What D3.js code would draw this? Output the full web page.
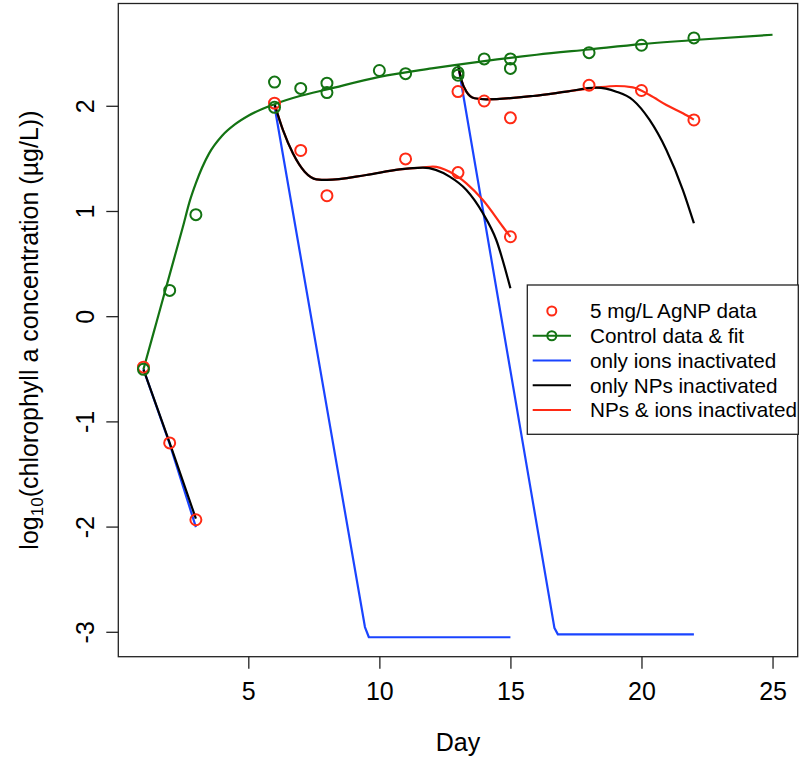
<!DOCTYPE html>
<html>
<head>
<meta charset="utf-8">
<script src="https://cdn.jsdelivr.net/npm/d3@7"></script>
<style>
  body { margin: 0; background: #fff; }
  svg text { font-family: "Liberation Sans", Arial, Helvetica, sans-serif; fill: #000; }
</style>
</head>
<body>
<svg id="chart" width="800" height="761"></svg>
<script>
// control data (green circles)
const ctrlDays = [1, 2, 3, 6, 6, 7, 8, 8, 10, 11, 13, 13, 14, 15, 15, 18, 20, 22];
const ctrlVals = [-0.50, 0.25, 0.97, 2.23, 1.99, 2.17, 2.22, 2.13, 2.34, 2.31, 2.32, 2.295, 2.45, 2.45, 2.36, 2.51, 2.58, 2.65];

// control fit (green line)
const fitDays = [1, 1.5, 2, 2.5, 2.78, 3, 3.5, 4, 4.5, 5, 6, 7, 8, 10, 12, 14, 16, 18, 20, 22, 25];
const fitVals = [-0.50, -0.05, 0.40, 0.85, 1.11, 1.27, 1.55, 1.72, 1.83, 1.91, 2.02, 2.10, 2.16, 2.28, 2.36, 2.43, 2.49, 2.54, 2.59, 2.63, 2.68];

// 5 mg/L AgNP data (red circles)
const agDays = [1, 2, 3, 6, 7, 8, 11, 13, 15, 13, 14, 15, 18, 20, 22];
const agVals = [-0.48, -1.20, -1.93, 2.03, 1.58, 1.15, 1.50, 1.37, 0.76, 2.14, 2.05, 1.89, 2.20, 2.15, 1.87];

// only ions inactivated (blue), three runs
const blueDays1 = [1, 2, 3];
const blueVals1 = [-0.50, -1.21, -2.00];
const blueDays2 = [6, 9.45, 9.6, 15];
const blueVals2 = [2.00, -2.95, -3.047, -3.047];
const blueDays3 = [13, 16.68, 16.81, 22];
const blueVals3 = [2.40, -2.96, -3.02, -3.02];

// only NPs inactivated (black)
const blackDays1 = [1, 2, 3];
const blackVals1 = [-0.50, -1.20, -1.92];
const blackDays2 = [6, 6.32, 6.7, 7.15, 7.6, 8, 9.5, 10.77, 11.66, 12.68, 13.32, 13.95, 14.46, 15];
const blackVals2 = [2.02, 1.775, 1.553, 1.378, 1.306, 1.30, 1.347, 1.40, 1.416, 1.331, 1.204, 0.983, 0.729, 0.27];
const blackDays3 = [13, 13.13, 13.32, 13.63, 14.08, 15.86, 17.13, 18.28, 19.04, 19.67, 20.31, 20.95, 21.58, 22];
const blackVals3 = [2.40, 2.25, 2.139, 2.076, 2.066, 2.098, 2.139, 2.177, 2.139, 2.06, 1.87, 1.585, 1.204, 0.888];

// NPs & ions inactivated (red)
const redDays2 = [6, 6.32, 6.7, 7.15, 7.6, 8, 9.5, 10.77, 11.66, 12.04, 12.68, 13.32, 13.95, 14.71, 15];
const redVals2 = [2.02, 1.775, 1.553, 1.378, 1.306, 1.30, 1.347, 1.40, 1.418, 1.426, 1.378, 1.268, 1.109, 0.855, 0.758];
const redDays3 = [13, 13.13, 13.32, 13.63, 14.08, 15.86, 17.13, 18.28, 19.04, 19.67, 20.31, 20.95, 21.58, 22];
const redVals3 = [2.40, 2.25, 2.139, 2.076, 2.066, 2.098, 2.139, 2.177, 2.193, 2.18, 2.107, 2.012, 1.933, 1.873];

const xTicks = [5, 10, 15, 20, 25];
const yTicks = [-3, -2, -1, 0, 1, 2];
const legendLabels = ["5 mg/L AgNP data", "Control data & fit", "only ions inactivated", "only NPs inactivated", "NPs & ions inactivated"];

const GREEN = "#137313";
const RED = "#ff2a14";
const BLUE = "#1a44ff";
const BLACK = "#000";

const svg = d3.select("#chart");
const plotL = 118.3, plotR = 797.7, plotT = 3.5, plotB = 656.7;

const x = d3.scaleLinear().domain([0.04, 25.96]).range([plotL, plotR]);
const y = d3.scaleLinear().domain([-3.232, 2.977]).range([plotB, plotT]);

const zip = (ds, vs) => ds.map((d, i) => [d, vs[i]]);

const smooth = d3.line().x(d => x(d[0])).y(d => y(d[1])).curve(d3.curveMonotoneX);
const straight = d3.line().x(d => x(d[0])).y(d => y(d[1]));

const plot = svg.append("g");

function drawLine(data, color, gen) {
  plot.append("path")
      .datum(data)
      .attr("fill", "none")
      .attr("stroke", color)
      .attr("stroke-width", 2.2)
      .attr("stroke-linejoin", "round")
      .attr("d", gen);
}

// blue first, then red, then black on top
drawLine(zip(blueDays1, blueVals1), BLUE, straight);
drawLine(zip(blueDays2, blueVals2), BLUE, straight);
drawLine(zip(blueDays3, blueVals3), BLUE, straight);
drawLine(zip(redDays2, redVals2), RED, smooth);
drawLine(zip(redDays3, redVals3), RED, smooth);
drawLine(zip(blackDays1, blackVals1), BLACK, straight);
drawLine(zip(blackDays2, blackVals2), BLACK, smooth);
drawLine(zip(blackDays3, blackVals3), BLACK, smooth);
drawLine(zip(fitDays, fitVals), GREEN, smooth);

// data points
plot.selectAll("circle.ag")
    .data(zip(agDays, agVals))
    .join("circle")
    .attr("class", "ag")
    .attr("cx", d => x(d[0]))
    .attr("cy", d => y(d[1]))
    .attr("r", 5.5)
    .attr("fill", "none")
    .attr("stroke", RED)
    .attr("stroke-width", 2);

plot.selectAll("circle.ctrl")
    .data(zip(ctrlDays, ctrlVals))
    .join("circle")
    .attr("class", "ctrl")
    .attr("cx", d => x(d[0]))
    .attr("cy", d => y(d[1]))
    .attr("r", 5.5)
    .attr("fill", "none")
    .attr("stroke", GREEN)
    .attr("stroke-width", 2);

// frame
svg.append("rect")
   .attr("x", plotL).attr("y", plotT)
   .attr("width", plotR - plotL).attr("height", plotB - plotT)
   .attr("fill", "none").attr("stroke", "#222").attr("stroke-width", 1.3);

// axes (plain hyphen minus like the original)
const fmt = d => String(d);

const xAxis = svg.append("g")
   .attr("transform", `translate(0,${plotB})`)
   .call(d3.axisBottom(x).tickValues(xTicks).tickSize(12).tickPadding(14).tickFormat(fmt));
xAxis.select(".domain").remove();
xAxis.selectAll("line").attr("stroke", "#222").attr("stroke-width", 1.3);
xAxis.selectAll("text").style("font-size", "25px").attr("fill", "#000");

const yAxis = svg.append("g")
   .attr("transform", `translate(${plotL},0)`)
   .call(d3.axisLeft(y).tickValues(yTicks).tickSize(12).tickFormat(fmt));
yAxis.select(".domain").remove();
yAxis.selectAll("line").attr("stroke", "#222").attr("stroke-width", 1.3);
yAxis.selectAll(".tick").attr("transform", null);
yAxis.selectAll(".tick line").attr("y1", d => y(d)).attr("y2", d => y(d));
yAxis.selectAll("text")
     .style("font-size", "25px")
     .attr("fill", "#000")
     .attr("x", null).attr("dy", null)
     .attr("text-anchor", "middle")
     .attr("transform", d => `translate(${94 - plotL},${y(d)}) rotate(-90)`);

// axis titles
svg.append("text")
   .attr("x", (plotL + plotR) / 2)
   .attr("y", 751)
   .attr("text-anchor", "middle")
   .style("font-size", "25px")
   .text("Day");

const ylab = svg.append("text")
   .attr("transform", `translate(38,${(plotT + plotB) / 2}) rotate(-90)`)
   .attr("text-anchor", "middle")
   .style("font-size", "25px");
ylab.append("tspan").text("log");
ylab.append("tspan").attr("dy", 5).style("font-size", "17px").text("10");
ylab.append("tspan").attr("dy", -5).text("(chlorophyll a concentration (µg/L))");

// legend
const lg = svg.append("g");
lg.append("rect")
  .attr("x", 527.3).attr("y", 285)
  .attr("width", 271).attr("height", 149.3)
  .attr("fill", "#fff").attr("stroke", "#222").attr("stroke-width", 1.3);

const rowY = i => 311 + i * 24.75;
const legColors = [RED, GREEN, BLUE, BLACK, RED];

legendLabels.forEach((lab, i) => {
  if (i > 0) {
    lg.append("line")
      .attr("x1", 532.7).attr("x2", 571)
      .attr("y1", rowY(i)).attr("y2", rowY(i))
      .attr("stroke", legColors[i]).attr("stroke-width", 2.2);
  }
  if (i < 2) {
    lg.append("circle")
      .attr("cx", 551.8).attr("cy", rowY(i)).attr("r", 4.5)
      .attr("fill", "none").attr("stroke", legColors[i]).attr("stroke-width", 2);
  }
  lg.append("text")
    .attr("x", 590).attr("y", rowY(i))
    .attr("dy", "0.36em")
    .style("font-size", "20.7px")
    .text(lab);
});
</script>
</body>
</html>
